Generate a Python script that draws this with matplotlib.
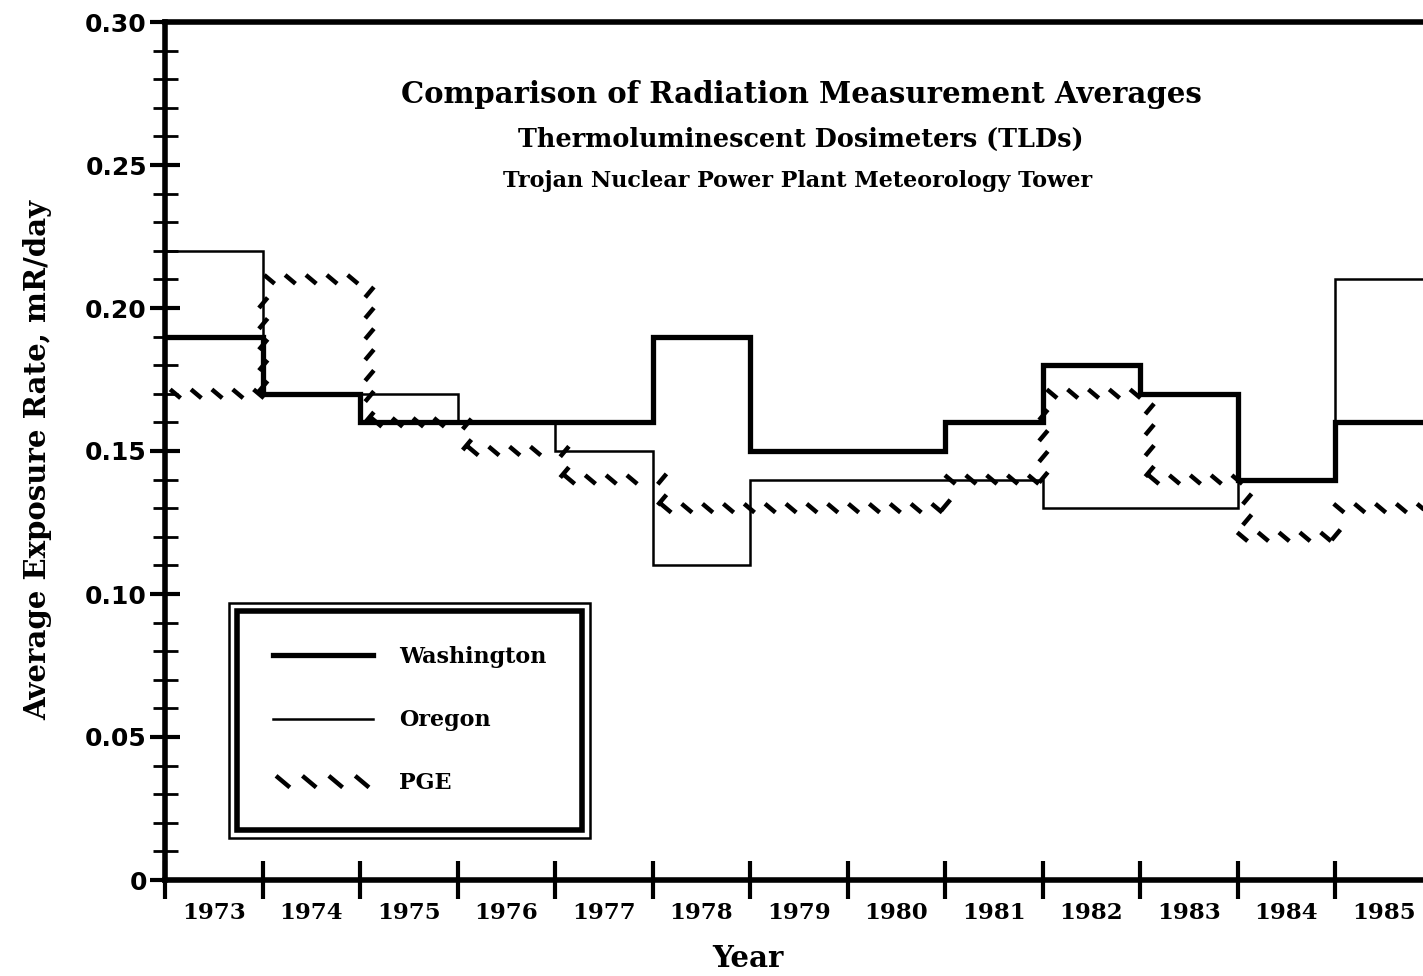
import matplotlib
matplotlib.use("Agg")
import matplotlib.pyplot as plt
import matplotlib.patheffects as pe
from matplotlib.lines import Line2D
from matplotlib.patches import Rectangle
import numpy as np

years = ["1973", "1974", "1975", "1976", "1977", "1978", "1979",
         "1980", "1981", "1982", "1983", "1984", "1985"]
washington = [0.19, 0.17, 0.16, 0.16, 0.16, 0.19, 0.15, 0.15, 0.16, 0.18, 0.17, 0.14, 0.16]
oregon     = [0.22, 0.17, 0.17, 0.16, 0.15, 0.11, 0.14, 0.14, 0.14, 0.13, 0.13, 0.14, 0.21]
pge        = [0.17, 0.21, 0.16, 0.15, 0.14, 0.13, 0.13, 0.13, 0.14, 0.17, 0.14, 0.12, 0.13]

SERIF = "DejaVu Serif"

fig = plt.figure(figsize=(14.23, 9.76), dpi=100)
ax = fig.add_axes([165/1423, 96/976, 1 - 165/1423, 858/976])

edges = np.arange(len(years) + 1)

ax.stairs(washington, edges, baseline=None, color="black", linewidth=3.8, zorder=3)
ax.stairs(oregon, edges, baseline=None, color="black", linewidth=1.8, zorder=3)
pge_fx = [pe.TickedStroke(offset=(3.7, -3.1), spacing=15, angle=140, length=0.65)]
ax.stairs(pge, edges, baseline=None, color="black", linewidth=3.2, zorder=4,
          path_effects=pge_fx)

ax.set_xlim(0, 12.9)
ax.set_ylim(0, 0.30)

# spines
for s in ["left", "bottom", "top"]:
    ax.spines[s].set_linewidth(4.0)
ax.spines["right"].set_visible(False)

# y ticks
ax.set_yticks(np.arange(0, 0.301, 0.05))
ax.set_yticklabels(["0", "0.05", "0.10", "0.15", "0.20", "0.25", "0.30"])
ax.set_yticks(np.arange(0, 0.301, 0.01), minor=True)
ax.tick_params(axis="y", which="major", direction="inout", length=22, width=3.0,
               pad=2, labelsize=18)
ax.tick_params(axis="y", which="minor", direction="inout", length=18, width=2.0)

# x ticks: boundaries marked, labels centered
ax.set_xticks(edges[:-1])
ax.set_xticklabels([""] * (len(edges) - 1))
ax.set_xticks(edges[:-1] + 0.5, minor=True)
ax.set_xticklabels(years, minor=True)
ax.tick_params(axis="x", which="major", direction="inout", length=28, width=3.0)
ax.tick_params(axis="x", which="minor", length=0, pad=16, labelsize=16.5)

for lab in ax.get_yticklabels():
    lab.set_fontfamily("DejaVu Sans")
    lab.set_fontweight("bold")
for lab in ax.get_xticklabels(minor=True):
    lab.set_fontfamily(SERIF)
    lab.set_fontweight("bold")

ax.set_ylabel("Average Exposure Rate, mR/day", fontfamily=SERIF, fontweight="bold",
              fontsize=21)
ax.yaxis.set_label_coords(-0.0898, 0.4895)
ax.set_xlabel("Year", fontfamily=SERIF, fontweight="bold", fontsize=21, va="center")
ax.xaxis.set_label_coords((748 - 165) / 1258, -0.091)

# titles inside plot
ax.text(0.506, 0.915, "Comparison of Radiation Measurement Averages", transform=ax.transAxes,
        ha="center", va="center", fontfamily=SERIF, fontweight="bold", fontsize=21)
ax.text(0.505, 0.863, "Thermoluminescent Dosimeters (TLDs)", transform=ax.transAxes,
        ha="center", va="center", fontfamily=SERIF, fontweight="bold", fontsize=18.4)
ax.text(0.503, 0.815, "Trojan Nuclear Power Plant Meteorology Tower", transform=ax.transAxes,
        ha="center", va="center", fontfamily=SERIF, fontweight="bold", fontsize=16)

# legend
handles = [
    Line2D([], [], color="black", linewidth=3.8),
    Line2D([], [], color="black", linewidth=1.8),
    Line2D([], [], color="black", linewidth=3.2, path_effects=pge_fx),
]
leg = ax.legend(handles, ["Washington", "Oregon", "PGE"], loc="lower left",
                bbox_to_anchor=(72/1258, 50/858), bbox_transform=ax.transAxes,
                frameon=True, fancybox=False, edgecolor="black", framealpha=1.0,
                handlelength=4.5, handletextpad=1.2, labelspacing=1.85, borderpad=1.6,
                borderaxespad=0, prop={"family": SERIF, "weight": "bold", "size": 16})
leg.get_frame().set_linewidth(4.0)

fig.canvas.draw()
bb = leg.get_window_extent()
pad = 8
outer = Rectangle((bb.x0 - pad, bb.y0 - pad), bb.width + 2 * pad, bb.height + 2 * pad,
                  transform=None, fill=False, edgecolor="black", linewidth=1.8, zorder=10)
fig.patches.append(outer)

fig.savefig("out.png", dpi=100)
